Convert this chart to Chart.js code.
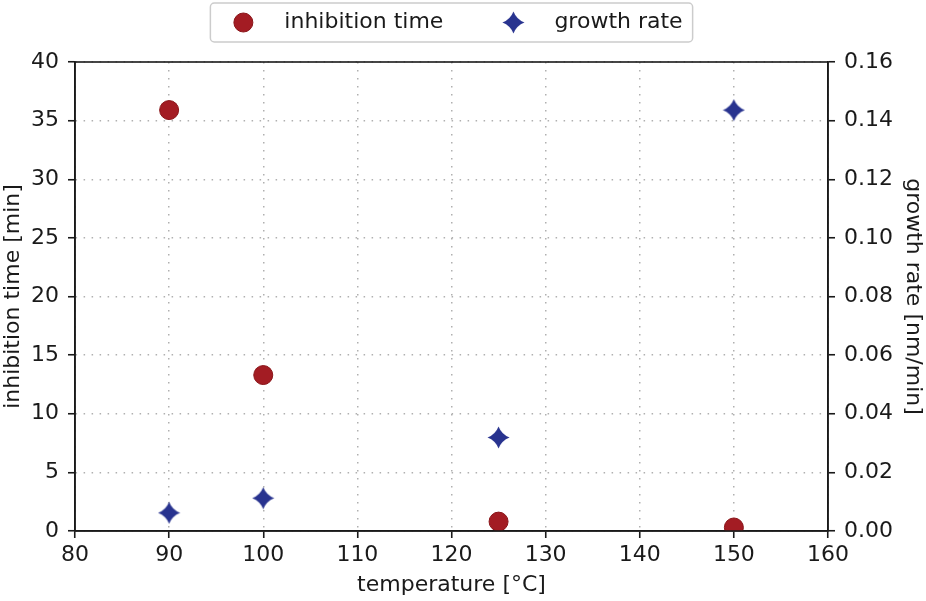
<!DOCTYPE html>
<html>
<head>
<meta charset="utf-8">
<script src="https://cdn.jsdelivr.net/npm/chart.js@4.4.1/dist/chart.umd.min.js"></script>
<style>
  html,body{margin:0;padding:0;background:#fff;}
  #wrap{width:926px;height:601px;}
</style>
</head>
<body>
<div id="wrap"><canvas id="c"></canvas></div>
<script>
// ---- data ----
const temperatures = [90, 100, 125, 150];
const inhibitionTime = [35.9, 13.3, 0.8, 0.3];      // min
const growthRate = [0.0062, 0.0112, 0.0319, 0.1436]; // nm/min
const xTicks = [80, 90, 100, 110, 120, 130, 140, 150, 160];
const seriesNames = ['inhibition time', 'growth rate'];
const axisTitles = { x: 'temperature [°C]', y: 'inhibition time [min]', y2: 'growth rate [nm/min]' };

const RED = '#a31c23', RED_EDGE = '#8a1519';
const BLUE = '#28338f';
const FONT = 'DejaVu Sans';
const FS = 22;

// 4-point concave star marker
function makeStar(size, color) {
  const c = document.createElement('canvas');
  c.width = size; c.height = size;
  const g = c.getContext('2d');
  const m = size / 2, r = size / 2 - 0.5, k = r * 0.28;
  g.beginPath();
  g.moveTo(m, m - r);
  g.quadraticCurveTo(m + k, m - k, m + r, m);
  g.quadraticCurveTo(m + k, m + k, m, m + r);
  g.quadraticCurveTo(m - k, m + k, m - r, m);
  g.quadraticCurveTo(m - k, m - k, m, m - r);
  g.closePath();
  g.fillStyle = color; g.fill();
  return c;
}
const starImg = makeStar(23, BLUE);

const framePlugin = {
  id: 'frame',
  afterDraw(chart) {
    const { ctx, chartArea: a } = chart;
    ctx.save();
    ctx.strokeStyle = '#1a1a1a';
    ctx.lineWidth = 1.6;
    ctx.strokeRect(a.left, a.top, a.right - a.left, a.bottom - a.top);
    ctx.restore();
  }
};

const legendPlugin = {
  id: 'customLegend',
  afterDraw(chart) {
    const { ctx, chartArea: a } = chart;
    ctx.save();
    ctx.font = FS + 'px "' + FONT + '"';
    const w0 = ctx.measureText(seriesNames[0]).width;
    const w1 = ctx.measureText(seriesNames[1]).width;
    const padL = 33, mk2txt = 41, gap = 70, padR = 10;
    const total = padL + mk2txt + w0 + gap + mk2txt + w1 + padR;
    const cx = (a.left + a.right) / 2;
    const x0 = cx - total / 2, y0 = 3, h = 39, cy = y0 + h / 2;
    const r = 4;
    ctx.beginPath();
    ctx.moveTo(x0 + r, y0);
    ctx.arcTo(x0 + total, y0, x0 + total, y0 + h, r);
    ctx.arcTo(x0 + total, y0 + h, x0, y0 + h, r);
    ctx.arcTo(x0, y0 + h, x0, y0, r);
    ctx.arcTo(x0, y0, x0 + total, y0, r);
    ctx.closePath();
    ctx.fillStyle = 'rgba(255,255,255,0.8)';
    ctx.fill();
    ctx.strokeStyle = '#cccccc';
    ctx.lineWidth = 1.5;
    ctx.stroke();
    let mx = x0 + padL;
    ctx.beginPath();
    ctx.arc(mx, cy, 9.5, 0, Math.PI * 2);
    ctx.fillStyle = RED; ctx.fill();
    ctx.strokeStyle = RED_EDGE; ctx.lineWidth = 1; ctx.stroke();
    ctx.fillStyle = '#1a1a1a';
    ctx.textBaseline = 'middle';
    ctx.textAlign = 'left';
    ctx.fillText(seriesNames[0], mx + mk2txt, cy);
    mx = mx + mk2txt + w0 + gap;
    ctx.drawImage(starImg, mx - starImg.width / 2, cy - starImg.height / 2);
    ctx.fillStyle = '#1a1a1a';
    ctx.fillText(seriesNames[1], mx + mk2txt, cy);
    ctx.restore();
  }
};

Chart.defaults.font.family = FONT;
Chart.defaults.font.size = FS;
Chart.defaults.color = '#1a1a1a';

const gridCommon = {
  color: '#b0b0b0',
  lineWidth: 1.5,
  tickLength: 7,
  tickColor: '#1a1a1a',
  tickWidth: 1.6,
  tickBorderDash: []
};
const borderCommon = { display: true, color: '#1a1a1a', width: 1.6, dash: [1.5, 6.5] };

new Chart(document.getElementById('c'), {
  type: 'scatter',
  data: {
    datasets: [
      {
        label: seriesNames[0],
        data: temperatures.map((t, i) => ({ x: t, y: inhibitionTime[i] })),
        yAxisID: 'y',
        pointStyle: 'circle',
        pointRadius: 9.5,
        pointHoverRadius: 9.5,
        backgroundColor: RED,
        borderColor: RED_EDGE,
        borderWidth: 1
      },
      {
        label: seriesNames[1],
        data: temperatures.map((t, i) => ({ x: t, y: growthRate[i] })),
        yAxisID: 'y2',
        pointStyle: starImg,
        pointRadius: 11,
        backgroundColor: BLUE,
        borderColor: BLUE
      }
    ]
  },
  options: {
    responsive: true,
    maintainAspectRatio: false,
    animation: false,
    events: [],
    layout: { padding: { top: 62, left: 0, right: 0, bottom: 0 } },
    plugins: { legend: { display: false }, tooltip: { enabled: false } },
    scales: {
      x: {
        type: 'linear',
        min: 80, max: 160,
        afterBuildTicks(s) { s.ticks = xTicks.map(v => ({ value: v })); },
        afterFit(s) { s.height = 70; },
        grid: { ...gridCommon },
        border: { ...borderCommon },
        ticks: { padding: 4, font: { size: FS } },
        title: { display: true, text: axisTitles.x, font: { size: FS }, padding: { top: 0, bottom: 3 } }
      },
      y: {
        type: 'linear',
        position: 'left',
        min: 0, max: 40,
        afterFit(s) { s.width = 75; },
        grid: { ...gridCommon },
        border: { ...borderCommon },
        ticks: { stepSize: 5, padding: 9, font: { size: FS } },
        title: { display: true, text: axisTitles.y, font: { size: FS }, padding: 0 }
      },
      y2: {
        type: 'linear',
        position: 'right',
        min: 0, max: 0.16,
        afterFit(s) { s.width = 98; },
        grid: { ...gridCommon, drawOnChartArea: false },
        border: { ...borderCommon },
        ticks: { stepSize: 0.02, padding: 9, font: { size: FS }, callback: v => v.toFixed(2) },
        title: { display: true, text: axisTitles.y2, font: { size: FS }, padding: 0 }
      }
    }
  },
  plugins: [framePlugin, legendPlugin]
});
</script>
</body>
</html>
